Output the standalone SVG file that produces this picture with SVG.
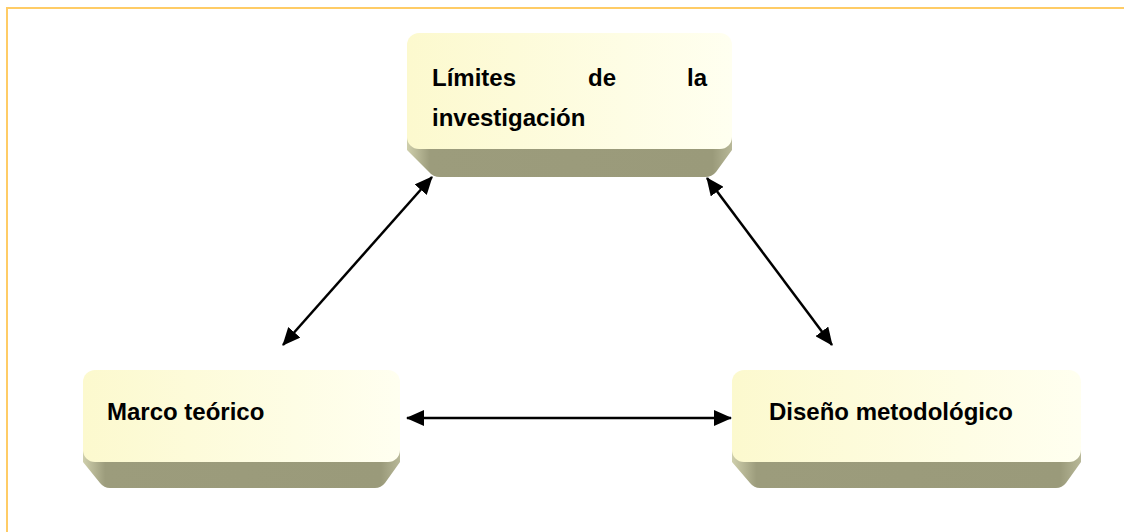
<svg xmlns="http://www.w3.org/2000/svg" width="1124" height="532" viewBox="0 0 1124 532">
  <style>
    .face { fill: url(#faceGrad); }
    .side { fill: url(#sideGrad); }
    .lbl { font-family: "Liberation Sans", Arial, sans-serif; font-weight: bold; font-size: 24px; fill: #000; }
    .conn { stroke: #000; stroke-width: 2.5; fill: none; marker-start: url(#arrow); marker-end: url(#arrow); }
    .frame { stroke: #FFCC66; stroke-width: 2; fill: none; }
  </style>
  <defs>
    <linearGradient id="faceGrad" x1="0" y1="0" x2="1" y2="0">
      <stop offset="0" stop-color="#FCF9CE"/>
      <stop offset="1" stop-color="#FFFFF0"/>
    </linearGradient>
    <linearGradient id="sideGrad" x1="0" y1="0" x2="1" y2="0">
      <stop offset="0" stop-color="#CFCFAC"/>
      <stop offset="0.07" stop-color="#9C9C7C"/>
      <stop offset="0.94" stop-color="#9A9A7A"/>
      <stop offset="1" stop-color="#B8B898"/>
    </linearGradient>
    <marker id="arrow" markerUnits="userSpaceOnUse" markerWidth="18" markerHeight="16" viewBox="0 0 18 16" refX="17" refY="8" orient="auto-start-reverse">
      <path d="M0,0 L18,8 L0,16 z" fill="#000"/>
    </marker>
  </defs>

  <rect x="0" y="0" width="1124" height="532" fill="#fff"/>
  <path class="frame" d="M7,532 L7,8 L1124,8"/>

  <g id="connectors">
    <line class="conn" x1="283" y1="345" x2="432" y2="177"/>
    <line class="conn" x1="707" y1="178" x2="832" y2="345"/>
    <line class="conn" x1="407" y1="418" x2="731" y2="418"/>
  </g>

  <g id="node-limites">
    <path class="side" d="M407,125 L732,125 L732,150 L716,172 Q712,177 705,177 L440,177 Q433,177 429,172 L407,150 Z"/>
    <rect class="face" x="407" y="33" width="325" height="116" rx="12"/>
    <text class="lbl" x="432" y="86">Límites</text>
    <text class="lbl" x="588" y="86">de</text>
    <text class="lbl" x="707" y="86" text-anchor="end">la</text>
    <text class="lbl" x="432" y="126">investigación</text>
  </g>

  <g id="node-marco">
    <path class="side" d="M83,440 L400,440 L400,462 L385,483 Q381,488 375,488 L110,488 Q104,488 100,483 L83,462 Z"/>
    <rect class="face" x="83" y="370" width="317" height="92" rx="12"/>
    <text class="lbl" x="107" y="420">Marco teórico</text>
  </g>

  <g id="node-diseno">
    <path class="side" d="M732,440 L1081,440 L1081,462 L1066,483 Q1062,488 1056,488 L760,488 Q754,488 750,483 L732,462 Z"/>
    <rect class="face" x="732" y="370" width="349" height="92" rx="12"/>
    <text class="lbl" x="769" y="420">Diseño metodológico</text>
  </g>
</svg>
